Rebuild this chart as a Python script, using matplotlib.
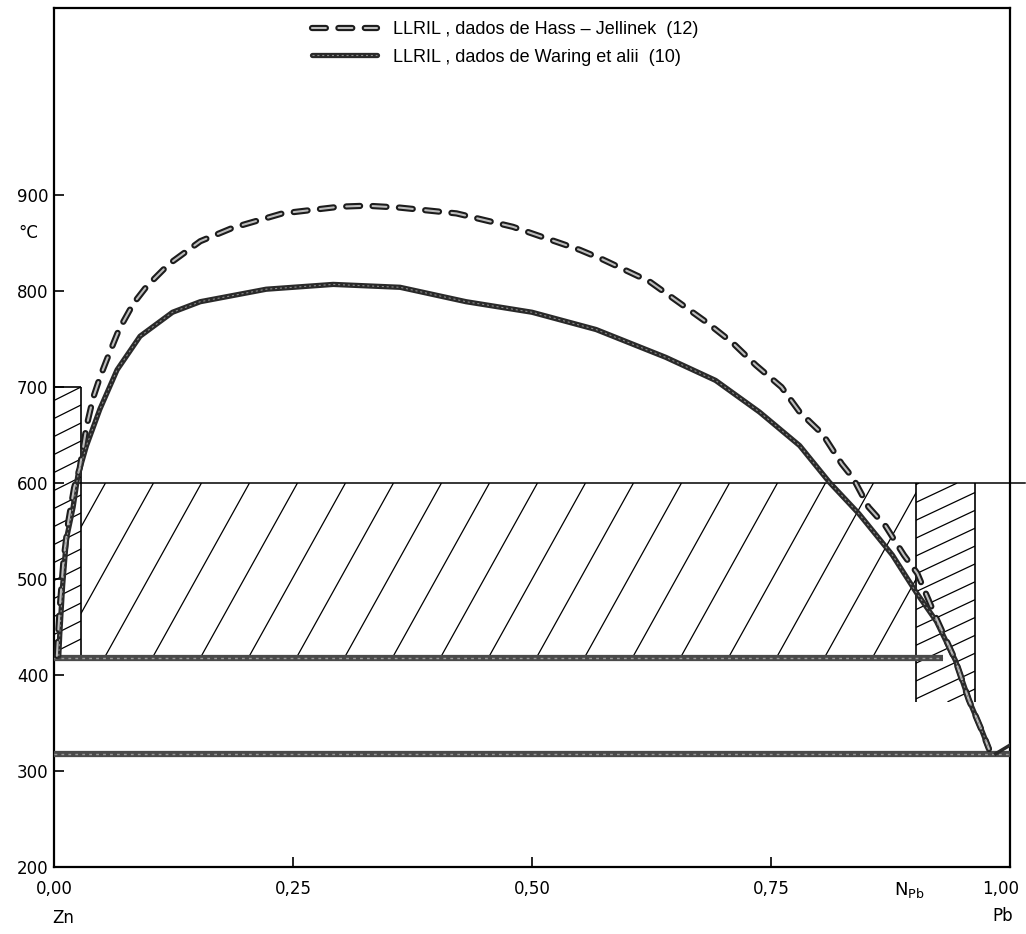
import numpy as np
import matplotlib
matplotlib.use("Agg")
import matplotlib.pyplot as plt
import matplotlib.transforms as mtransforms
from matplotlib.patches import Rectangle
from matplotlib.collections import LineCollection

plt.rcParams['lines.scale_dashes'] = False

# LLRIL curve, Hass - Jellinek data (12)
hj_x = [0.003, 0.006, 0.010, 0.015, 0.021, 0.027, 0.034, 0.041, 0.048, 0.055,
        0.068, 0.083, 0.097, 0.12, 0.153, 0.187, 0.239, 0.299, 0.327, 0.362,
        0.421, 0.480, 0.55, 0.574, 0.623, 0.654, 0.682, 0.710, 0.734, 0.761,
        0.78, 0.804, 0.824, 0.836, 0.852, 0.870, 0.889, 0.903, 0.923, 0.943,
        0.957, 0.971, 0.978]
hj_t = [420, 470, 520, 560, 595, 616, 659, 689, 710, 728,
        760, 787, 805, 828, 852, 866, 881, 888, 889, 887,
        881, 867, 843, 833, 810, 788, 768, 746, 723, 700,
        674, 651, 620, 605, 575, 555, 525, 506, 459, 415,
        374, 341, 323]

# LLRIL curve, Waring et alii data (10)
wa_x = [0.005, 0.006, 0.009, 0.013, 0.020, 0.025, 0.034, 0.048, 0.066, 0.090,
        0.124, 0.153, 0.222, 0.292, 0.362, 0.431, 0.5, 0.567, 0.640, 0.692,
        0.738, 0.78, 0.811, 0.842, 0.877, 0.902, 0.923, 0.943, 0.957, 0.971,
        0.978]
wa_t = [420, 442, 493, 542, 575, 608, 639, 677, 718, 753,
        778, 789, 802, 807, 804, 789, 778, 760, 731, 707,
        674, 639, 601, 568, 525, 486, 456, 415, 374, 341,
        323]

# Pb-rich liquidus stub
pb_x = [0.985, 1.0]
pb_t = [318, 327]

monotectic_t = 418
eutectic_t = 318
limit_t = 600

# hatched regions: (x0, x1, t0, t1)
left_strip = (0.0, 0.028, 418, 700)
mid_box = (0.028, 0.902, 418, 600)
right_strip = (0.902, 0.963, 372, 600)

yticks = [200, 300, 400, 500, 600, 700, 800, 900]
xticks = [0.0, 0.25, 0.50, 0.75, 1.0]
xticklabels = ['0,00', '0,25', '0,50', '0,75', '1,00']

leg_labels = ['LLRIL , dados de Hass \u2013 Jellinek  (12)',
              'LLRIL , dados de Waring et alii  (10)']

fig = plt.figure(figsize=(10.26, 9.34), dpi=100)
ax = fig.add_axes([54 / 1026, 67 / 934, 956 / 1026, 859 / 934])
ax.set_xlim(0, 1)
ax.set_ylim(200, 1095)


def hatch(ax, box, slope, step, anchor):
    # slanted hatch lines drawn in pixel space, clipped to the box
    x0, x1, t0, t1 = box
    p0 = ax.transData.transform((x0, t0))
    p1 = ax.transData.transform((x1, t1))
    a = ax.transData.transform(anchor)
    run = (p1[1] - p0[1]) / slope
    c_anchor = a[0] - (a[1] - p0[1]) / slope
    k0 = int(np.floor((p0[0] - run - c_anchor) / step)) - 1
    k1 = int(np.ceil((p1[0] - c_anchor) / step)) + 1
    inv = ax.transData.inverted()
    segs = []
    for k in range(k0, k1 + 1):
        c = c_anchor + k * step
        segs.append(inv.transform([(c, p0[1]), (c + run, p1[1])]))
    rect = Rectangle((x0, t0), x1 - x0, t1 - t0, transform=ax.transData,
                     fill=False, lw=0)
    lc = LineCollection(segs, colors='black', linewidths=0.9, zorder=2)
    ax.add_collection(lc)
    lc.set_clip_path(rect)


hatch(ax, left_strip, 0.5, 36, (0.028, 700))
hatch(ax, mid_box, 1.8, 48, (0.104, 600))
hatch(ax, right_strip, 0.47, 38, (0.963, 590))

# strip outlines
ax.vlines(left_strip[1], left_strip[2], left_strip[3], color='black', lw=1.2)
ax.hlines(left_strip[3], left_strip[0], left_strip[1], color='black', lw=1.2)
ax.vlines([right_strip[0], right_strip[1]], right_strip[2], right_strip[3],
          color='black', lw=1.2)

# 600 line runs past the frame
ax.plot([0.025, 1.016], [limit_t, limit_t], color='black', lw=1.1,
        clip_on=False, zorder=3)

# monotectic and eutectic lines
for xs, t in [([0.0, 0.93], monotectic_t), ([0.0, 1.0], eutectic_t)]:
    ax.plot(xs, [t, t], color='#4a4a4a', lw=4.5, solid_capstyle='butt',
            zorder=3)
    ax.plot(xs, [t, t], color='#9a9a9a', lw=1.0, ls=(0, (2, 3)), zorder=3)

# curves
hj_outer, = ax.plot(hj_x, hj_t, color='#1c1c1c', lw=4.5, ls=(0, (10, 9)),
                    dash_capstyle='round', zorder=4)
hj_inner, = ax.plot(hj_x, hj_t, color='#bdbdbd', lw=1.5, ls=(0, (10, 9)),
                    dash_capstyle='round', zorder=5)
wa_outer, = ax.plot(wa_x, wa_t, color='#2a2a2a', lw=3.8, zorder=4,
                    solid_capstyle='round')
wa_inner, = ax.plot(wa_x, wa_t, color='#8c8c8c', lw=0.8, ls=(0, (1.5, 2)),
                    zorder=5)
ax.plot(pb_x, pb_t, color='#2a2a2a', lw=2.5, zorder=4)

# axes look
for s in ax.spines.values():
    s.set_linewidth(1.6)
ax.set_yticks(yticks)
ax.set_yticklabels([str(v) for v in yticks])
ax.set_xticks(xticks)
ax.set_xticklabels(xticklabels)
ax.tick_params(axis='both', direction='in', length=7, width=1.2,
               labelsize=12)
ax.tick_params(axis='y', pad=4)
ax.tick_params(axis='x', pad=9)
last = ax.get_xticklabels()[-1]
last.set_transform(last.get_transform() +
                   mtransforms.ScaledTranslation(-9 / 100, 0, fig.dpi_scale_trans))

ax.text(-0.027, 861, '\u00b0C', transform=ax.get_yaxis_transform(),
        ha='center', va='center', fontsize=12)
ax.text(0.01, -0.059, 'Zn', transform=ax.get_xaxis_transform(),
        ha='center', va='center', fontsize=12)
ax.text(0.992, -0.057, 'Pb', transform=ax.get_xaxis_transform(),
        ha='center', va='center', fontsize=12)
ax.text(0.895, -0.027, r'$\mathregular{N_{Pb}}$',
        transform=ax.get_xaxis_transform(), ha='center', va='center',
        fontsize=13)

ax.legend([(hj_outer, hj_inner), (wa_outer, wa_inner)], leg_labels,
          loc='upper left', bbox_to_anchor=(0.27, 0.985),
          frameon=False, handlelength=3.6, handletextpad=0.9,
          labelspacing=0.6, borderpad=0, borderaxespad=0,
          prop={'family': ['Liberation Sans', 'DejaVu Sans'], 'size': 13})

fig.savefig('out.png', dpi=100)
